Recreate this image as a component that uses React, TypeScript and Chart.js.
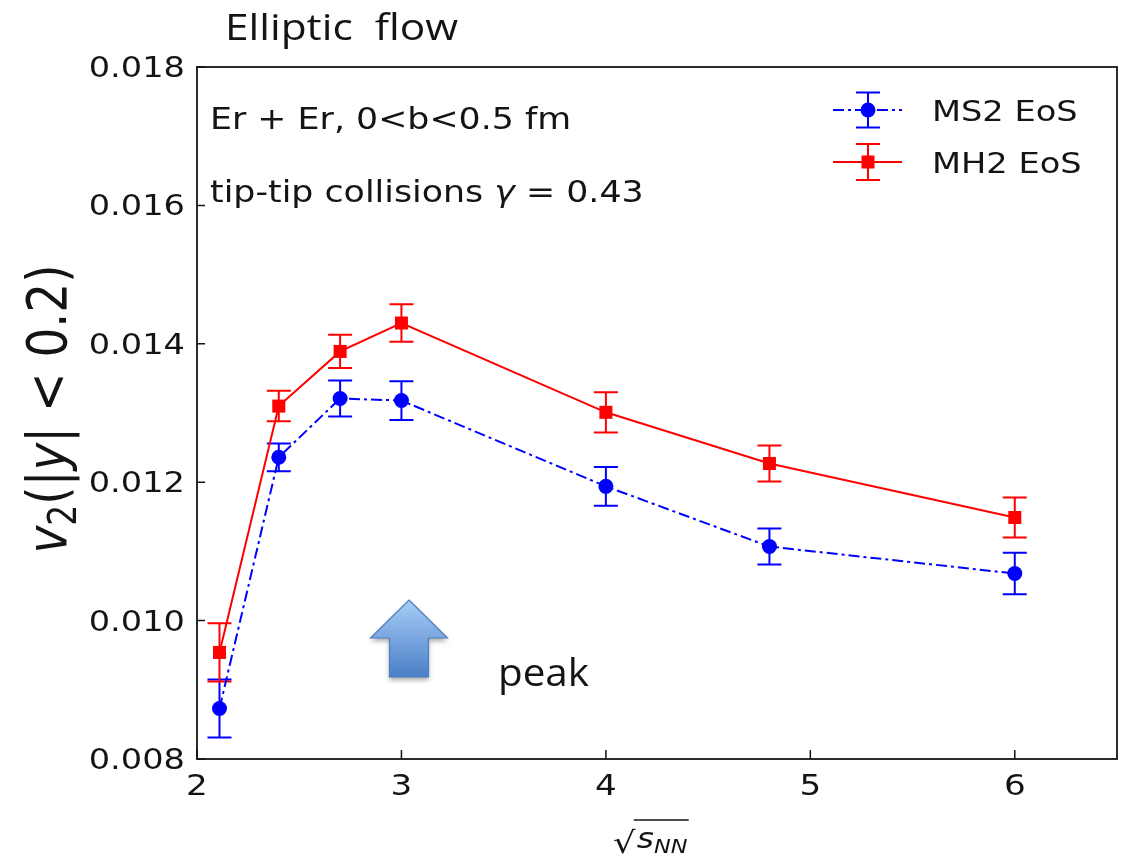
import React, { useEffect, useRef } from 'react';
import { Chart, registerables } from 'chart.js';
Chart.register(...registerables);

// ---- data ----
const energies = [2.11, 2.4, 2.7, 3, 4, 4.8, 6];
const ms2V2 = [0.00873, 0.01236, 0.01321, 0.01318, 0.01194, 0.01107, 0.01068];
const ms2Err = [0.00042, 0.0002, 0.00026, 0.00028, 0.00028, 0.00026, 0.0003];
const mh2V2 = [0.00954, 0.0131, 0.01389, 0.0143, 0.01301, 0.01227, 0.01149];
const mh2Err = [0.00042, 0.00022, 0.00024, 0.00027, 0.00029, 0.00026, 0.00029];
const seriesLabels = ['MS2 EoS', 'MH2 EoS'];
const xTicks = [2, 3, 4, 5, 6];
const xTickLabels = ['2', '3', '4', '5', '6'];
const yTicks = [0.008, 0.01, 0.012, 0.014, 0.016, 0.018];
const yTickLabels = ['0.008', '0.010', '0.012', '0.014', '0.016', '0.018'];

const SX = 1.18; // horizontal stretch of the original figure
const DV = '"DejaVu Sans"';
const INK = '#141414';
const BLUE = '#0000ff';
const RED = '#ff0000';
const BLUE_DASH = [11, 4, 3, 4];

type Seg = { t: string; size: number; italic?: boolean; dy?: number };

function drawText(ctx: CanvasRenderingContext2D, str: string, x: number, y: number, font: string, align = 'left', sx = SX, color = INK) {
  ctx.save();
  ctx.font = font;
  ctx.fillStyle = color;
  ctx.textAlign = 'left';
  ctx.textBaseline = 'alphabetic';
  const w = ctx.measureText(str).width * sx;
  let dx = 0;
  if (align === 'center') dx = -w / 2;
  else if (align === 'right') dx = -w;
  ctx.translate(x + dx, y);
  ctx.scale(sx, 1);
  ctx.fillText(str, 0, 0);
  ctx.restore();
}

function fitText(ctx: CanvasRenderingContext2D, str: string, x: number, y: number, font: string, width: number, color = INK) {
  ctx.save();
  ctx.font = font;
  const w = ctx.measureText(str).width;
  ctx.restore();
  drawText(ctx, str, x, y, font, 'left', width / w, color);
}

function segWidth(ctx: CanvasRenderingContext2D, segs: Seg[]) {
  let w = 0;
  segs.forEach((s) => {
    ctx.font = `${s.italic ? 'italic ' : ''}${s.size}px ${DV}`;
    w += ctx.measureText(s.t).width;
  });
  return w;
}

// draws segments in the current (already transformed) frame starting at x0
function drawSegs(ctx: CanvasRenderingContext2D, segs: Seg[], x0: number, y0: number) {
  let x = x0;
  segs.forEach((s) => {
    ctx.font = `${s.italic ? 'italic ' : ''}${s.size}px ${DV}`;
    ctx.fillText(s.t, x, y0 + (s.dy || 0));
    x += ctx.measureText(s.t).width;
  });
}

const errorBarsPlugin = {
  id: 'errorBars',
  beforeDatasetsDraw(chart: any) {
    const { ctx } = chart;
    const xs = chart.scales.x;
    const ys = chart.scales.y;
    const sets = [
      { vals: ms2V2, errs: ms2Err, color: BLUE },
      { vals: mh2V2, errs: mh2Err, color: RED },
    ];
    ctx.save();
    sets.forEach((s) => {
      ctx.strokeStyle = s.color;
      ctx.lineWidth = 2;
      energies.forEach((e, i) => {
        const px = xs.getPixelForValue(e);
        const top = ys.getPixelForValue(s.vals[i] + s.errs[i]);
        const bot = ys.getPixelForValue(s.vals[i] - s.errs[i]);
        ctx.beginPath();
        ctx.moveTo(px, top);
        ctx.lineTo(px, bot);
        ctx.moveTo(px - 12, top);
        ctx.lineTo(px + 12, top);
        ctx.moveTo(px - 12, bot);
        ctx.lineTo(px + 12, bot);
        ctx.stroke();
      });
    });
    ctx.restore();
  },
};

const decorPlugin = {
  id: 'decor',
  afterDatasetsDraw(chart: any) {
    const { ctx, chartArea } = chart;
    const xs = chart.scales.x;
    const ys = chart.scales.y;
    const { left, right, top, bottom } = chartArea;

    // frame
    ctx.save();
    ctx.strokeStyle = INK;
    ctx.lineWidth = 1.8;
    ctx.strokeRect(left, top, right - left, bottom - top);
    // inward ticks
    ctx.lineWidth = 1.5;
    ctx.beginPath();
    yTicks.forEach((v) => {
      const py = ys.getPixelForValue(v);
      ctx.moveTo(left, py);
      ctx.lineTo(left + 8, py);
    });
    xTicks.forEach((v) => {
      const px = xs.getPixelForValue(v);
      ctx.moveTo(px, bottom);
      ctx.lineTo(px, bottom - 9);
    });
    ctx.stroke();
    ctx.restore();

    // tick labels
    yTicks.forEach((v, i) => {
      drawText(ctx, yTickLabels[i], left - 12, ys.getPixelForValue(v) + 10, `28.5px ${DV}`, 'right');
    });
    xTicks.forEach((v, i) => {
      drawText(ctx, xTickLabels[i], xs.getPixelForValue(v), bottom + 36, `29px ${DV}`, 'center');
    });

    // y title (rotated, mathtext-like)
    const ySegs: Seg[] = [
      { t: 'v', size: 47, italic: true },
      { t: '2', size: 33, dy: 9 },
      { t: '(|', size: 47 },
      { t: 'y', size: 47, italic: true },
      { t: '| < 0.2)', size: 47 },
    ];
    ctx.save();
    ctx.fillStyle = INK;
    ctx.textBaseline = 'alphabetic';
    ctx.textAlign = 'left';
    ctx.translate(48, 409);
    ctx.scale(SX, 1);
    ctx.rotate(-Math.PI / 2);
    const yw = segWidth(ctx, ySegs);
    drawSegs(ctx, ySegs, -yw / 2, 15);
    ctx.restore();

    // x title sqrt(s_NN)
    ctx.save();
    ctx.fillStyle = INK;
    ctx.strokeStyle = INK;
    ctx.translate(613, 0);
    ctx.scale(SX, 1);
    ctx.font = `30px ${DV}`;
    ctx.fillText('\u221A', 0, 853);
    const rw = ctx.measureText('\u221A').width;
    ctx.font = `italic 28px ${DV}`;
    ctx.fillText('s', rw + 1, 848);
    const sw = ctx.measureText('s').width;
    ctx.font = `italic 19px ${DV}`;
    ctx.fillText('NN', rw + 1 + sw, 853);
    const nw = ctx.measureText('NN').width;
    ctx.lineWidth = 1.4;
    ctx.beginPath();
    ctx.moveTo(rw - 1.5, 820);
    ctx.lineTo(rw + 2 + sw + nw, 820);
    ctx.stroke();
    ctx.restore();

    // in-plot annotations
    drawText(ctx, 'Er + Er, 0<b<0.5 fm', 210, 129, `29.5px ${DV}`);
    ctx.save();
    ctx.fillStyle = INK;
    ctx.translate(210, 202);
    ctx.scale(SX, 1);
    drawSegs(ctx, [
      { t: 'tip-tip collisions ', size: 29.5 },
      { t: '\u03B3', size: 29.5, italic: true },
      { t: ' = 0.43', size: 29.5 },
    ], 0, 0);
    ctx.restore();

    // legend
    const rows = [
      { y: 110, color: BLUE, dash: BLUE_DASH, marker: 'circle', err: 17.5 },
      { y: 162, color: RED, dash: [] as number[], marker: 'rect', err: 18 },
    ];
    rows.forEach((r, i) => {
      ctx.save();
      ctx.strokeStyle = r.color;
      ctx.fillStyle = r.color;
      ctx.lineWidth = 2;
      ctx.setLineDash(r.dash);
      ctx.beginPath();
      ctx.moveTo(833, r.y);
      ctx.lineTo(902, r.y);
      ctx.stroke();
      ctx.setLineDash([]);
      const mx = 868;
      ctx.beginPath();
      ctx.moveTo(mx, r.y - r.err);
      ctx.lineTo(mx, r.y + r.err);
      ctx.moveTo(mx - 12, r.y - r.err);
      ctx.lineTo(mx + 12, r.y - r.err);
      ctx.moveTo(mx - 12, r.y + r.err);
      ctx.lineTo(mx + 12, r.y + r.err);
      ctx.stroke();
      if (r.marker === 'circle') {
        ctx.beginPath();
        ctx.arc(mx, r.y, 7.5, 0, Math.PI * 2);
        ctx.fill();
      } else {
        ctx.fillRect(mx - 6.5, r.y - 6.5, 13, 13);
      }
      ctx.restore();
      drawText(ctx, chart.data.datasets[i].label, 932, r.y + 11, `28.5px ${DV}`);
    });

    // title and peak annotation (slide-style text)
    fitText(ctx, 'Elliptic  flow', 225, 40, '36px "Open Sans"', 233);
    fitText(ctx, 'peak', 498, 686, '38px "Open Sans"', 91);

    // block arrow
    ctx.save();
    const ax = 409;
    const path = new Path2D();
    path.moveTo(ax, 600);
    path.lineTo(ax + 38.5, 638);
    path.lineTo(ax + 19.5, 638);
    path.lineTo(ax + 19.5, 677);
    path.lineTo(ax - 19.5, 677);
    path.lineTo(ax - 19.5, 638);
    path.lineTo(ax - 38.5, 638);
    path.closePath();
    const g = ctx.createLinearGradient(0, 600, 0, 677);
    g.addColorStop(0, '#a8cdf7');
    g.addColorStop(1, '#4a7fc6');
    ctx.shadowColor = 'rgba(0,0,0,0.35)';
    ctx.shadowBlur = 5;
    ctx.shadowOffsetY = 3;
    ctx.fillStyle = g;
    ctx.fill(path);
    ctx.shadowColor = 'transparent';
    ctx.strokeStyle = '#4d7ebd';
    ctx.lineWidth = 1.2;
    ctx.stroke(path);
    ctx.restore();
  },
};

export default function App() {
  const ref = useRef<HTMLCanvasElement | null>(null);
  useEffect(() => {
    if (!ref.current) return;
    const chart = new Chart(ref.current, {
      type: 'scatter',
      data: {
        datasets: [
          {
            label: seriesLabels[0],
            data: energies.map((x, i) => ({ x, y: ms2V2[i] })),
            showLine: true,
            borderColor: BLUE,
            backgroundColor: BLUE,
            borderWidth: 2,
            borderDash: BLUE_DASH,
            pointStyle: 'circle',
            pointRadius: 7.5,
            pointBorderWidth: 0,
            tension: 0,
          },
          {
            label: seriesLabels[1],
            data: energies.map((x, i) => ({ x, y: mh2V2[i] })),
            showLine: true,
            borderColor: RED,
            backgroundColor: RED,
            borderWidth: 2,
            pointStyle: 'rect',
            pointRadius: 9.2,
            pointBorderWidth: 0,
            tension: 0,
          },
        ],
      },
      options: {
        responsive: false,
        devicePixelRatio: 1,
        animation: false,
        events: [],
        layout: { padding: { left: 197, top: 67, right: 11, bottom: 96 } },
        plugins: { legend: { display: false }, tooltip: { enabled: false }, title: { display: false } },
        scales: {
          x: { type: 'linear', min: 2, max: 6.5, display: false, ticks: { stepSize: 1, includeBounds: false } },
          y: { type: 'linear', min: 0.008, max: 0.018, display: false, ticks: { stepSize: 0.002 } },
        },
      },
      plugins: [errorBarsPlugin, decorPlugin],
    } as any);
    return () => chart.destroy();
  }, []);
  return (
    <div style={{ position: 'absolute', left: 0, top: 0, width: 1128, height: 855, background: '#fff' }}>
      <canvas ref={ref} width={1128} height={855} style={{ display: 'block' }} />
    </div>
  );
}
